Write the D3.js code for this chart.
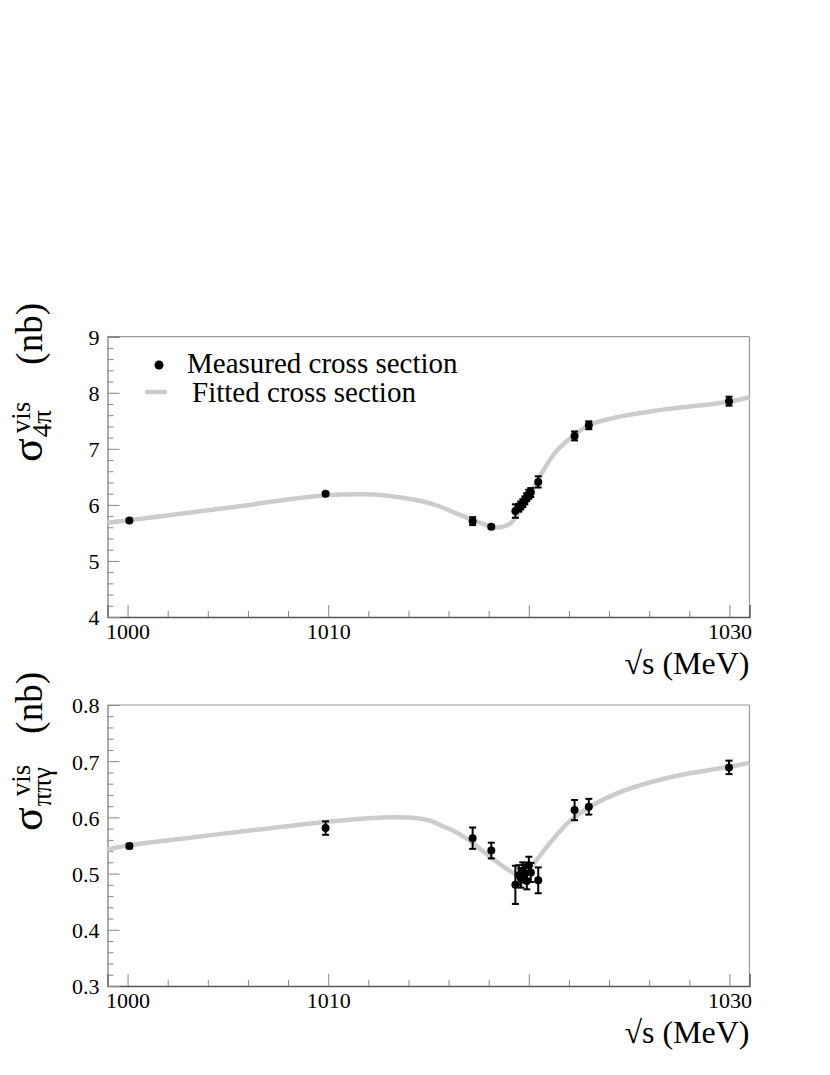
<!DOCTYPE html>
<html>
<head>
<meta charset="utf-8">
<script src="https://cdn.jsdelivr.net/npm/d3@7"></script>
<style>
  html, body { margin: 0; padding: 0; background: #fff; }
  svg { display: block; }
  svg text { font-family: "Liberation Serif", "Times New Roman", Tinos, "Nimbus Roman", "DejaVu Serif", serif !important; fill: #000; }
</style>
</head>
<body>
<svg id="chart" width="830" height="1075"></svg>
<script>
// ---------- data ----------
const energy = [1000.09, 1009.87, 1017.2, 1018.13, 1019.33, 1019.5, 1019.6, 1019.7, 1019.8, 1019.9, 1020.0, 1020.1, 1020.47, 1022.28, 1022.99, 1029.98];

const sigma4pi = [5.72, 6.20, 5.71, 5.61, 5.89, 5.95, 5.99, 6.03, 6.08, 6.14, 6.19, 6.22, 6.41, 7.23, 7.42, 7.85];
const err4pi   = [0.03, 0.03, 0.07, 0.03, 0.12, 0.07, 0.07, 0.07, 0.07, 0.07, 0.08, 0.08, 0.10, 0.08, 0.07, 0.08];

const sigmaPPG = [0.549, 0.581, 0.563, 0.541, 0.480, 0.497, 0.492, 0.505, 0.500, 0.487, 0.515, 0.502, 0.488, 0.613, 0.619, 0.689];
const errPPG   = [0.004, 0.012, 0.019, 0.014, 0.034, 0.018, 0.017, 0.015, 0.016, 0.015, 0.015, 0.017, 0.023, 0.018, 0.014, 0.012];

const fitE4pi = [999, 1000, 1004.8, 1009.87, 1011.84, 1013.08, 1014.74, 1015.5, 1016.18, 1017.21, 1018.04, 1018.56, 1019.08, 1019.49, 1020.11, 1020.73, 1021.35, 1021.98, 1023.0, 1024.46, 1026.52, 1029.98, 1031];
const fitS4pi = [5.68, 5.72, 5.94, 6.17, 6.19, 6.16, 6.06, 5.98, 5.88, 5.73, 5.62, 5.60, 5.67, 5.85, 6.21, 6.62, 6.95, 7.16, 7.42, 7.57, 7.69, 7.84, 7.92];

const fitEPPG = [999, 1000, 1005, 1009.88, 1012.7, 1014.37, 1015.08, 1015.8, 1016.27, 1016.99, 1018.18, 1019.14, 1019.5, 1020.09, 1021.04, 1022.0, 1023.19, 1024.62, 1027.0, 1029.97, 1031];
const fitSPPG = [0.543, 0.550, 0.572, 0.592, 0.600, 0.599, 0.594, 0.583, 0.576, 0.560, 0.527, 0.503, 0.497, 0.512, 0.554, 0.592, 0.622, 0.646, 0.671, 0.690, 0.697];

const xMajor = [1000, 1010, 1020, 1030];
const xTickLabels = ["1000", "1010", "", "1030"];
const xMinor = [1002, 1004, 1006, 1008, 1012, 1014, 1016, 1018, 1022, 1024, 1026, 1028];

const yMajor4pi = [4, 5, 6, 7, 8, 9];
const yTickLabels4pi = ["4", "5", "6", "7", "8", "9"];
const yMajorPPG = [0.3, 0.4, 0.5, 0.6, 0.7, 0.8];
const yTickLabelsPPG = ["0.3", "0.4", "0.5", "0.6", "0.7", "0.8"];

const legendLabels = ["Measured cross section", "Fitted cross section"];
const xTitle = "\u221As (MeV)";

// ---------- drawing ----------
const FONT = "'Liberation Serif', 'Times New Roman', Tinos, 'DejaVu Serif', serif";
const svg = d3.select("#chart");
svg.append("rect").attr("width", 830).attr("height", 1075).attr("fill", "#fff");

const left = 107.5, right = 749.5;
const x = d3.scaleLinear().domain([999, 1031]).range([left, right]);

function minorY(major, step) {
  const out = [];
  for (let i = 0; i < major.length - 1; i++) {
    for (let k = 1; k < 5; k++) out.push(+(major[i] + k * step).toFixed(4));
  }
  return out;
}

function drawPanel(cfg) {
  const y = d3.scaleLinear().domain(cfg.domain).range([cfg.bottom, cfg.top]);
  const g = svg.append("g");

  // frame (top + right)
  g.append("line").attr("x1", left).attr("x2", right).attr("y1", cfg.top).attr("y2", cfg.top)
    .attr("stroke", "#9a9a9a").attr("stroke-width", 1.2);
  g.append("line").attr("x1", right).attr("x2", right).attr("y1", cfg.top).attr("y2", cfg.bottom)
    .attr("stroke", "#9a9a9a").attr("stroke-width", 1.2);

  // x axis
  const xa = g.append("g").attr("transform", `translate(0,${cfg.bottom})`)
    .call(d3.axisBottom(x).tickValues(xMajor).tickSize(-12).tickPadding(18)
      .tickFormat((d, i) => xTickLabels[i]));
  g.append("g").attr("transform", `translate(0,${cfg.bottom})`)
    .call(d3.axisBottom(x).tickValues(xMinor).tickSize(-6).tickFormat(""))
    .call(s => s.select(".domain").remove());
  xa.attr("font-family", FONT);
  xa.select(".domain").attr("stroke", "#555").attr("stroke-width", 1.4);
  xa.selectAll(".tick text").attr("font-size", 22).attr("dy", "0.2em");
  g.selectAll(".tick line").attr("stroke", "#888");

  // y axis
  const ya = g.append("g").attr("transform", `translate(${left},0)`)
    .call(d3.axisLeft(y).tickValues(cfg.yMajor).tickSize(-12).tickPadding(8)
      .tickFormat((d, i) => cfg.yLabels[i]));
  g.append("g").attr("transform", `translate(${left},0)`)
    .call(d3.axisLeft(y).tickValues(minorY(cfg.yMajor, cfg.minorStep)).tickSize(-6).tickFormat(""))
    .call(s => s.select(".domain").remove())
    .selectAll(".tick line").attr("stroke", "#888");
  ya.attr("font-family", FONT);
  ya.select(".domain").attr("stroke", "#777").attr("stroke-width", 1.2);
  ya.selectAll(".tick line").attr("stroke", "#888");
  ya.selectAll(".tick text").attr("font-size", 22).attr("dy", "0.36em");

  // fit curve
  const pts = cfg.fitE.map((e, i) => [e, cfg.fitS[i]]);
  const line = d3.line().x(d => x(d[0])).y(d => y(d[1])).curve(d3.curveCatmullRom.alpha(0.5));
  g.append("path").attr("d", line(pts)).attr("fill", "none")
    .attr("stroke", "#cccccc").attr("stroke-width", 4.5);

  // error bars + points
  const data = energy.map((e, i) => ({ e, v: cfg.vals[i], err: cfg.errs[i] }));
  const eb = g.append("g").attr("stroke", "#000").attr("stroke-width", 2);
  data.forEach(d => {
    const cx = x(d.e), y1 = y(d.v - d.err), y2 = y(d.v + d.err);
    eb.append("line").attr("x1", cx).attr("x2", cx).attr("y1", y1).attr("y2", y2);
    eb.append("line").attr("x1", cx - 3.5).attr("x2", cx + 3.5).attr("y1", y1).attr("y2", y1);
    eb.append("line").attr("x1", cx - 3.5).attr("x2", cx + 3.5).attr("y1", y2).attr("y2", y2);
  });
  g.append("g").selectAll("circle").data(data).join("circle")
    .attr("cx", d => x(d.e)).attr("cy", d => y(d.v)).attr("r", 4).attr("fill", "#000");

  // x title
  g.append("text").attr("x", right).attr("y", cfg.bottom + 57).attr("text-anchor", "end")
    .attr("font-size", 32).attr("font-family", FONT).text(xTitle);

  // y title (rotated, with sub/superscripts)
  const yt = g.append("g").attr("font-family", FONT)
    .attr("transform", `translate(42,${cfg.bottom - 155}) rotate(-90)`);
  const sig = yt.append("text").attr("x", 0).attr("y", 0).attr("font-size", 44).text("\u03C3");
  const sw = sig.node().getComputedTextLength();
  yt.append("text").attr("x", sw + 1).attr("y", 9).attr("font-size", 27).text(cfg.sub);
  yt.append("text").attr("x", sw + 1 + cfg.supShift).attr("y", -12).attr("font-size", 27).text("vis");
  yt.append("text").attr("x", 159).attr("y", 0).attr("text-anchor", "end").attr("font-size", 37).text("(nb)");
}

drawPanel({
  top: 336.7, bottom: 617, domain: [4, 9], yMajor: yMajor4pi, yLabels: yTickLabels4pi, minorStep: 0.2,
  vals: sigma4pi, errs: err4pi, fitE: fitE4pi, fitS: fitS4pi,
  sub: "4\u03C0", supShift: 4
});
drawPanel({
  top: 705, bottom: 986, domain: [0.3, 0.8], yMajor: yMajorPPG, yLabels: yTickLabelsPPG, minorStep: 0.02,
  vals: sigmaPPG, errs: errPPG, fitE: fitEPPG, fitS: fitSPPG,
  sub: "\u03C0\u03C0\u03B3", supShift: 10
});

// legend
const lg = svg.append("g").attr("font-family", FONT);
lg.append("circle").attr("cx", 159).attr("cy", 365).attr("r", 4.5).attr("fill", "#000");
lg.append("text").attr("x", 187).attr("y", 373).attr("font-size", 29).text(legendLabels[0]);
lg.append("line").attr("x1", 145).attr("x2", 167).attr("y1", 392).attr("y2", 392)
  .attr("stroke", "#cccccc").attr("stroke-width", 4.5);
lg.append("text").attr("x", 192).attr("y", 402).attr("font-size", 29).text(legendLabels[1]);
</script>
</body>
</html>
